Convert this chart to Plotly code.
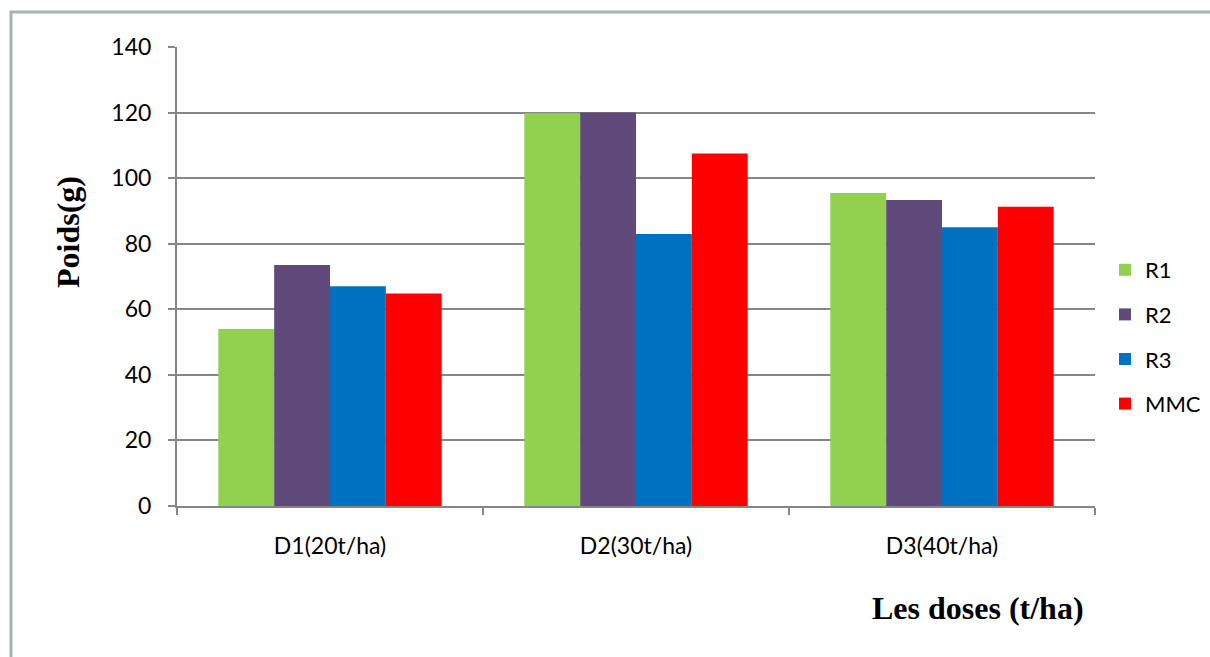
import plotly.graph_objects as go

categories = ["D1(20t/ha)", "D2(30t/ha)", "D3(40t/ha)"]
series_names = ["R1", "R2", "R3", "MMC"]
r1 = [54.0, 119.8, 95.5]
r2 = [73.5, 120.0, 93.3]
r3 = [67.0, 83.0, 85.0]
mmc = [64.8, 107.5, 91.3]
y_ticks = [0, 20, 40, 60, 80, 100, 120, 140]

colors = ["#92D050", "#604A7B", "#0070C0", "#FF0000"]
values = [r1, r2, r3, mmc]

W, H = 1210, 657
L, R, T, B = 177, 115, 47, 151
pw, ph = W - L - R, H - T - B

fig = go.Figure()
for i, (name, vals) in enumerate(zip(series_names, values)):
    fig.add_trace(go.Bar(
        x=categories, y=vals, name=name,
        marker=dict(color=colors[i], line=dict(width=0)),
        legendgroup=name,
    ))

def px(x):
    return (x - L) / pw

def py(y):
    return 1 - (y - T) / ph

serif = "'Liberation Serif', 'Times New Roman', serif"

fig.update_layout(
    width=W, height=H,
    margin=dict(l=L, r=R, t=T, b=B, autoexpand=False),
    paper_bgcolor="white", plot_bgcolor="white",
    barmode="group", bargap=0.27, bargroupgap=0,
    font=dict(family="Lato, 'Open Sans', sans-serif", color="black", size=22),
    showlegend=True,
    legend=dict(
        xref="container", yref="container",
        x=1105 / W, y=1 - 249 / H, xanchor="left", yanchor="top",
        traceorder="grouped", tracegroupgap=13,
        font=dict(size=22), itemwidth=30, bgcolor="rgba(0,0,0,0)",
    ),
    xaxis=dict(
        showline=True, linecolor="#868686", linewidth=2,
        ticks="outside", tickson="boundaries", ticklen=7, tickcolor="#868686", tickwidth=2,
        tickfont=dict(size=23), showgrid=False, ticklabelstandoff=18,
    ),
    yaxis=dict(
        range=[0, 140], tickvals=y_ticks,
        showline=True, linecolor="#868686", linewidth=2,
        ticks="outside", ticklen=7, tickcolor="#868686", tickwidth=2,
        showgrid=True, gridcolor="#868686", gridwidth=2,
        tickfont=dict(size=23), zeroline=False, ticklabelstandoff=12,
    ),
    annotations=[
        dict(text="<b>Poids(g)</b>", x=px(68), y=py(232), xref="paper", yref="paper",
             xanchor="center", yanchor="middle",
             textangle=-90, showarrow=False,
             font=dict(family=serif, size=32, color="black")),
        dict(text="<b>Les doses (t/ha)</b>", x=px(978), y=py(608), xref="paper", yref="paper",
             xanchor="center", yanchor="middle",
             showarrow=False,
             font=dict(family=serif, size=32, color="black")),
    ],
    shapes=[
        dict(type="path", xref="paper", yref="paper",
             path=f"M {px(11)} {py(660)} L {px(11)} {py(12)} L {px(1215)} {py(12)}",
             line=dict(color="#A7B2B2", width=3)),
    ],
)

fig.write_html("out.html", config={"displayModeBar": False},
               post_script="document.body.style.margin='0';")
